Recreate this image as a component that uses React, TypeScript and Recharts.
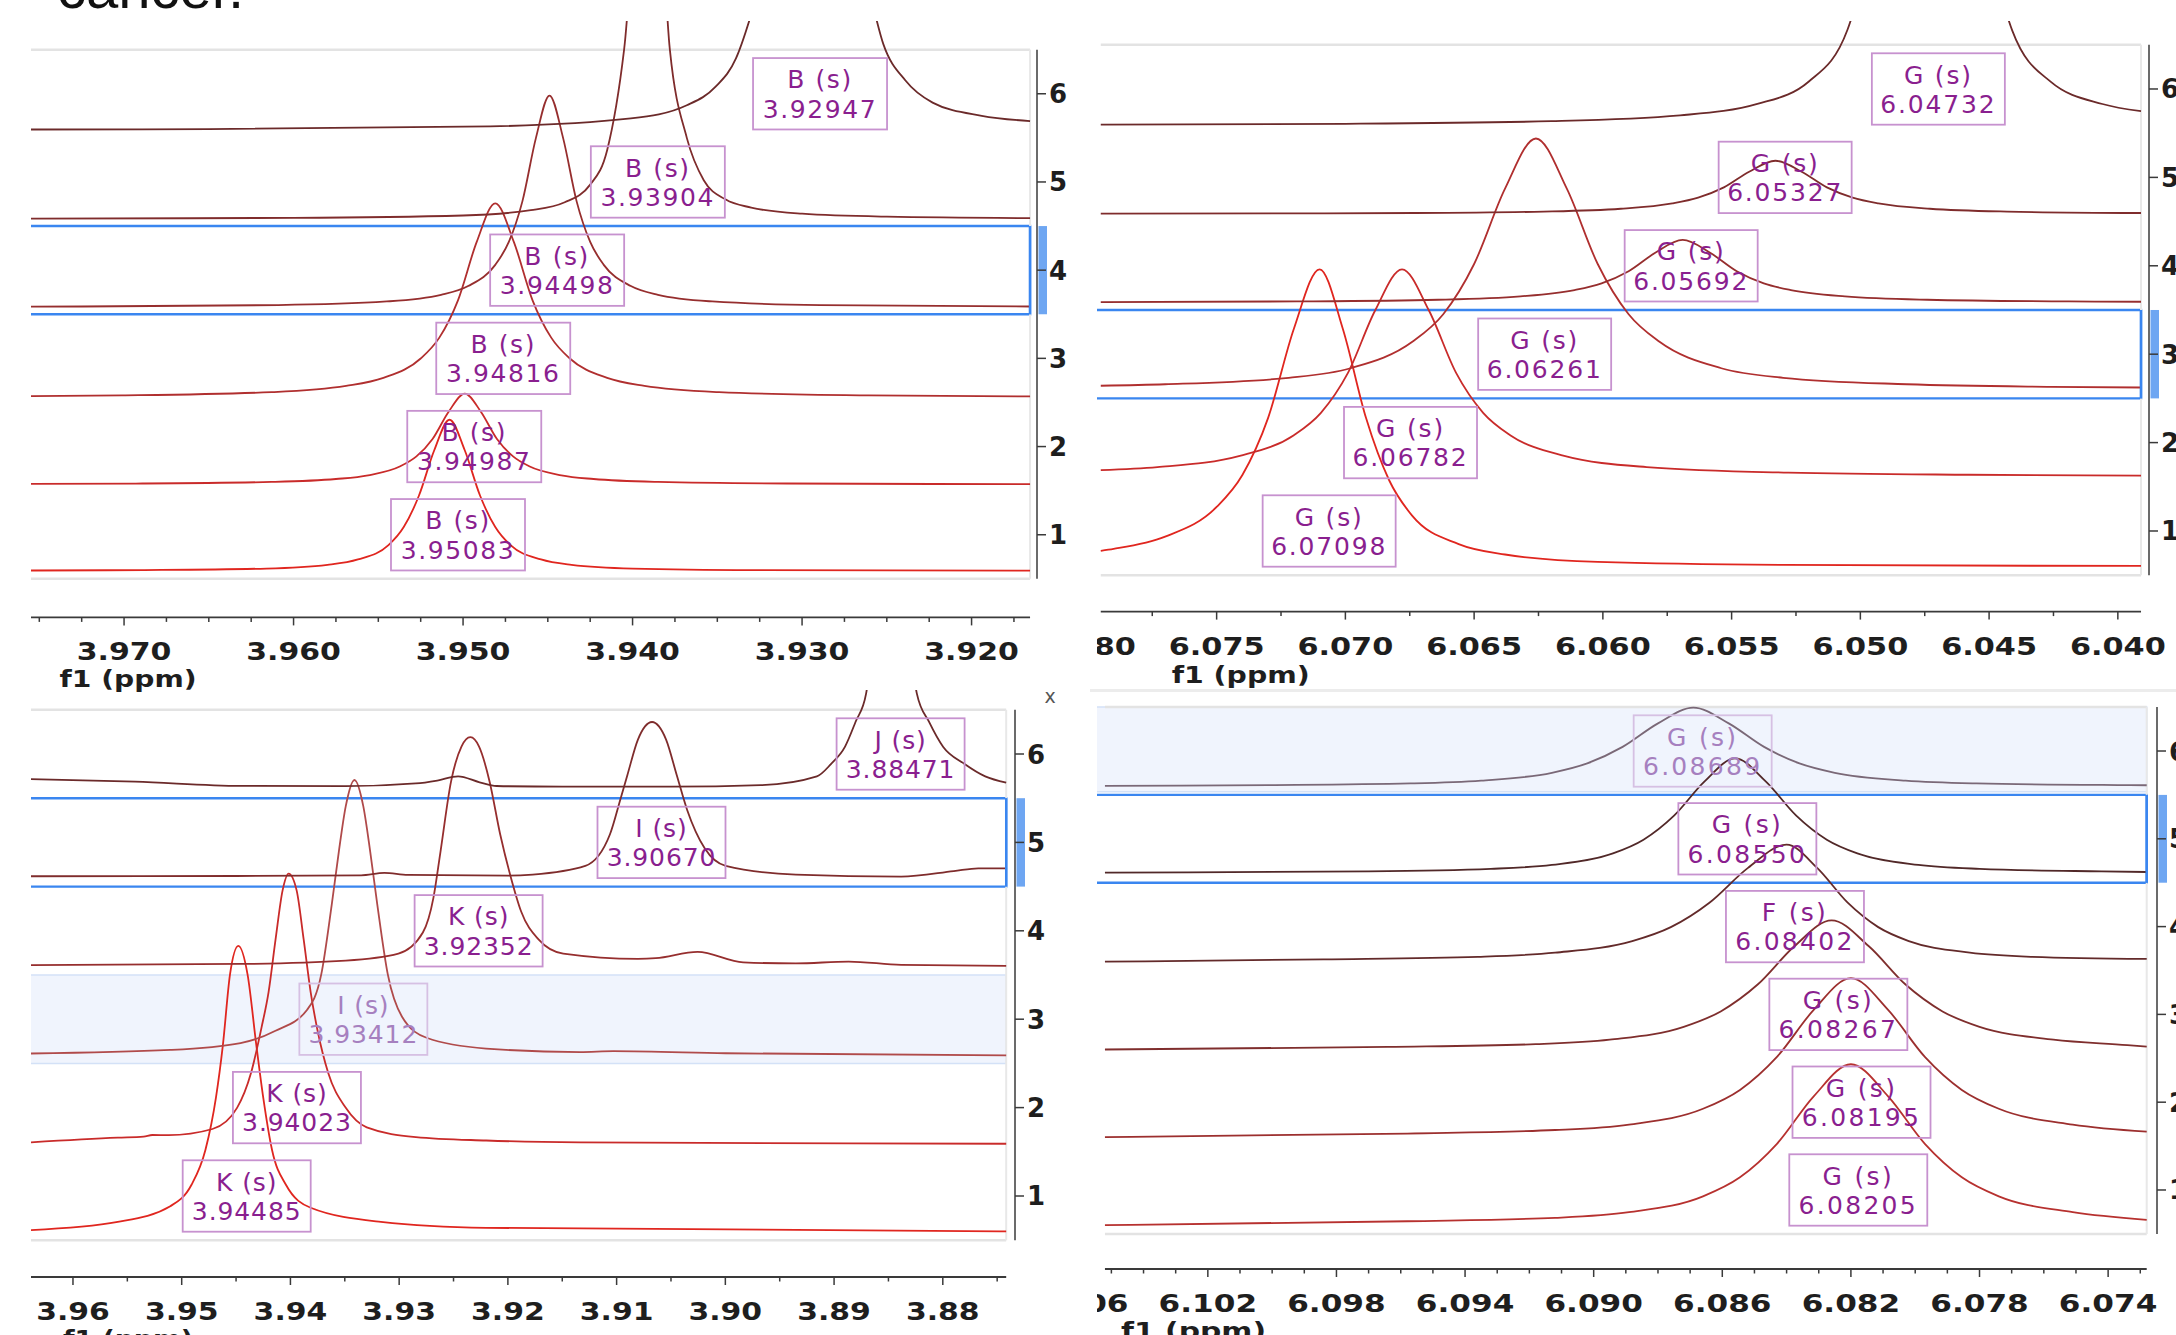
import React from "react";
import { ComposedChart, Line, XAxis, YAxis, ReferenceLine, ReferenceArea, ReferenceDot } from "recharts";

type Pt = [number, number];
type Lbl = [string, number, number];

// ---- top-left: B singlet, 3.92–3.97 ppm (ppm, stacked intensity) ----
const P1_T1: Pt[] = [[3.9755,0.595],[3.9688,0.6],[3.9616,0.617],[3.958,0.659],[3.9562,0.72],[3.9544,0.882],[3.9535,1.087],[3.9526,1.445],[3.9517,1.958],[3.9508,2.304],[3.9499,1.958],[3.949,1.445],[3.9481,1.087],[3.9472,0.882],[3.9454,0.72],[3.9436,0.659],[3.94,0.617],[3.9328,0.6],[3.91655,0.594]];
const P1_T2: Pt[] = [[3.9755,1.577],[3.9689,1.581],[3.9613,1.599],[3.9575,1.632],[3.9556,1.674],[3.9537,1.777],[3.95275,1.888],[3.9518,2.086],[3.95085,2.395],[3.9499,2.601],[3.94895,2.395],[3.948,2.086],[3.94705,1.888],[3.9461,1.777],[3.9442,1.674],[3.9423,1.632],[3.9385,1.599],[3.9309,1.581],[3.91655,1.574]];
const P1_T3: Pt[] = [[3.9755,2.572],[3.9701,2.58],[3.9613,2.617],[3.9569,2.687],[3.9547,2.778],[3.9525,2.998],[3.9514,3.235],[3.9503,3.658],[3.9492,4.318],[3.9481,4.758],[3.947,4.318],[3.9459,3.658],[3.9448,3.235],[3.9437,2.998],[3.9415,2.778],[3.9393,2.687],[3.9349,2.617],[3.9261,2.58],[3.91655,2.569]];
const P1_T4: Pt[] = [[3.9755,3.586],[3.9609,3.604],[3.9545,3.645],[3.9513,3.72],[3.9497,3.82],[3.9481,4.06],[3.9473,4.32],[3.9465,4.78],[3.9457,5.5],[3.9449,5.98],[3.9441,5.5],[3.9433,4.78],[3.9425,4.32],[3.9417,4.06],[3.9401,3.82],[3.9385,3.72],[3.9353,3.645],[3.9289,3.604],[3.91655,3.588]];
const P1_T5: Pt[] = [[3.9755,4.585],[3.96,4.593],[3.95,4.62],[3.946,4.68],[3.944,4.77],[3.9425,4.97],[3.9415,5.36],[3.9405,6.5],[3.939,10],[3.9378,6.5],[3.9368,5.5],[3.9358,5.02],[3.9345,4.8],[3.933,4.71],[3.93,4.64],[3.925,4.606],[3.91655,4.59]];
const P1_T6: Pt[] = [[3.9755,5.595],[3.965,5.6],[3.9484,5.63],[3.9401,5.72],[3.9368,5.87],[3.9351,6.08],[3.9339,6.4],[3.933,6.9],[3.931,8.5],[3.9295,14],[3.928,8.5],[3.9262,7.3],[3.9252,6.56],[3.9239,6.15],[3.9223,5.9],[3.9194,5.75],[3.91655,5.69]];
const P1_LABELS: Lbl[] = [["B (s)",3.92947,6],["B (s)",3.93904,5],["B (s)",3.94498,4],["B (s)",3.94816,3],["B (s)",3.94987,2],["B (s)",3.95083,1]];
const P1_MAJOR = ["3.970","3.960","3.950","3.940","3.930","3.920"];

// ---- top-right: G singlet, 6.04–6.08 ppm ----
const P2_T1: Pt[] = [[6.0795,0.776],[6.079,0.798],[6.077,0.936],[6.075,1.272],[6.074,1.634],[6.073,2.28],[6.072,3.288],[6.071,3.96],[6.0701,3.288],[6.0692,2.28],[6.0683,1.574],[6.0674,1.171],[6.0656,0.852],[6.0638,0.734],[6.0602,0.65],[6.053,0.617],[6.0391,0.605]];
const P2_T2: Pt[] = [[6.0795,1.688],[6.0773,1.723],[6.0741,1.85],[6.072,2.084],[6.07095,2.337],[6.0699,2.788],[6.06885,3.491],[6.0678,3.96],[6.06675,3.491],[6.0657,2.788],[6.06465,2.337],[6.0636,2.084],[6.0615,1.85],[6.0583,1.723],[6.0528,1.66],[6.0458,1.636],[6.0391,1.627]];
const P2_T3: Pt[] = [[6.0795,2.643],[6.077,2.66],[6.0722,2.733],[6.0698,2.841],[6.0674,3.14],[6.0662,3.452],[6.065,4.02],[6.0638,4.872],[6.0626,5.44],[6.0614,4.872],[6.0602,4.02],[6.059,3.452],[6.0578,3.14],[6.0554,2.841],[6.053,2.733],[6.0482,2.66],[6.0426,2.631],[6.0391,2.623]];
const P2_T4: Pt[] = [[6.0795,3.589],[6.0719,3.597],[6.0664,3.616],[6.0632,3.654],[6.0611,3.725],[6.06005,3.801],[6.059,3.938],[6.05795,4.15],[6.0569,4.292],[6.05585,4.15],[6.0548,3.938],[6.05375,3.801],[6.0527,3.725],[6.0506,3.654],[6.0474,3.616],[6.0419,3.597],[6.0391,3.593]];
const P2_T5: Pt[] = [[6.0795,4.589],[6.0673,4.597],[6.0623,4.613],[6.0593,4.645],[6.0573,4.706],[6.0563,4.771],[6.0553,4.887],[6.0543,5.067],[6.0533,5.188],[6.0523,5.067],[6.0513,4.887],[6.0503,4.771],[6.0493,4.706],[6.0473,4.645],[6.0443,4.613],[6.0391,4.597]];
const P2_T6: Pt[] = [[6.0795,5.596],[6.07,5.606],[6.062,5.636],[6.057,5.702],[6.054,5.831],[6.052,6.085],[6.0505,6.67],[6.0495,7.9],[6.0473,14],[6.0451,7.9],[6.0441,6.66],[6.0426,6.08],[6.0406,5.83],[6.0391,5.749]];
const P2_LABELS: Lbl[] = [["G (s)",6.04732,6],["G (s)",6.05327,5],["G (s)",6.05692,4],["G (s)",6.06261,3],["G (s)",6.06782,2],["G (s)",6.07098,1]];
const P2_MAJOR = ["6.080","6.075","6.070","6.065","6.060","6.055","6.050","6.045","6.040"];

// ---- bottom-left: K / I / J, 3.87–3.96 ppm ----
const P3_T1: Pt[] = [[3.96386,0.615],[3.95588,0.707],[3.95105,0.885],[3.94911,1.124],[3.94782,1.52],[3.94685,2.113],[3.94621,2.71],[3.94556,3.504],[3.94479,3.83],[3.94394,3.504],[3.94314,2.71],[3.9425,2.113],[3.94169,1.52],[3.9404,1.124],[3.93814,0.867],[3.93168,0.707],[3.922,0.64],[3.87417,0.6]];
const P3_T2: Pt[] = [[3.96386,1.607],[3.95588,1.66],[3.9535,1.672],[3.9527,1.69],[3.9512,1.688],[3.94717,1.758],[3.94491,1.997],[3.94362,2.394],[3.94265,2.91],[3.94201,3.307],[3.94137,3.9],[3.94072,4.457],[3.94017,4.647],[3.93943,4.457],[3.93878,3.9],[3.93814,3.307],[3.9375,2.869],[3.93653,2.394],[3.93491,1.997],[3.93298,1.776],[3.92846,1.667],[3.922,1.628],[3.91335,1.607],[3.87417,1.591]];
const P3_T3: Pt[] = [[3.96386,2.612],[3.95105,2.652],[3.94459,2.73],[3.94137,2.869],[3.93846,3.107],[3.93717,3.504],[3.9362,4.297],[3.93555,4.894],[3.93491,5.41],[3.93411,5.706],[3.9333,5.41],[3.93266,4.894],[3.93201,4.297],[3.93104,3.504],[3.92975,3.03],[3.92748,2.79],[3.922,2.668],[3.91335,2.628],[3.91029,2.639],[3.9,2.615],[3.87417,2.59]];
const P3_T4: Pt[] = [[3.96386,3.612],[3.94459,3.625],[3.93491,3.663],[3.93007,3.742],[3.92782,3.98],[3.92684,4.378],[3.9262,4.894],[3.92523,5.687],[3.92427,6.084],[3.92345,6.19],[3.92265,6.084],[3.92168,5.687],[3.92071,5.092],[3.91975,4.615],[3.91878,4.218],[3.91716,3.9],[3.91491,3.742],[3.90804,3.683],[3.9064,3.69],[3.90255,3.762],[3.89836,3.643],[3.89351,3.631],[3.88867,3.652],[3.88383,3.615],[3.87417,3.604]];
const P3_T5: Pt[] = [[3.96386,4.617],[3.945,4.62],[3.9335,4.628],[3.93136,4.655],[3.9292,4.632],[3.92,4.625],[3.91772,4.636],[3.91288,4.734],[3.91061,5.092],[3.90965,5.489],[3.909,5.766],[3.90804,6.163],[3.90674,6.362],[3.90545,6.163],[3.90448,5.766],[3.90352,5.37],[3.9019,4.933],[3.89997,4.734],[3.89351,4.636],[3.88383,4.613],[3.87899,4.675],[3.87674,4.707],[3.87417,4.707]];
const P3_T6: Pt[] = [[3.96386,5.715],[3.95429,5.687],[3.94459,5.639],[3.93491,5.636],[3.92846,5.667],[3.9265,5.7],[3.92458,5.747],[3.9226,5.68],[3.92104,5.638],[3.915,5.63],[3.905,5.63],[3.89674,5.647],[3.89158,5.747],[3.89029,5.886],[3.88899,6.084],[3.88803,6.362],[3.88706,6.68],[3.886,8.5],[3.8847,15],[3.8835,8.5],[3.88238,6.68],[3.88125,6.36],[3.87996,6.08],[3.87803,5.89],[3.8761,5.747],[3.87417,5.676]];
const P3_LABELS: Lbl[] = [["J (s)",3.88471,6],["I (s)",3.9067,5],["K (s)",3.92352,4],["I (s)",3.93412,3],["K (s)",3.94023,2],["K (s)",3.94485,1]];
const P3_MAJOR = ["3.96","3.95","3.94","3.93","3.92","3.91","3.90","3.89","3.88"];

// ---- bottom-right: G / F, 6.073–6.105 ppm ----
const P4_T1: Pt[] = [[6.1052,0.6],[6.0958,0.644],[6.0912,0.683],[6.0889,0.747],[6.0866,0.928],[6.08545,1.145],[6.0843,1.526],[6.08315,2.07],[6.082,2.432],[6.08085,2.07],[6.0797,1.526],[6.07855,1.145],[6.0774,0.928],[6.0751,0.747],[6.0728,0.66]];
const P4_T2: Pt[] = [[6.1052,1.602],[6.0958,1.643],[6.0912,1.683],[6.0889,1.745],[6.0866,1.925],[6.08545,2.14],[6.0843,2.516],[6.08315,3.054],[6.082,3.412],[6.08085,3.054],[6.0797,2.516],[6.07855,2.14],[6.0774,1.925],[6.0751,1.745],[6.0728,1.665]];
const P4_T3: Pt[] = [[6.1052,2.6],[6.0964,2.629],[6.0918,2.661],[6.0895,2.712],[6.0872,2.858],[6.08605,3.034],[6.0849,3.34],[6.08375,3.779],[6.0826,4.071],[6.08145,3.779],[6.0803,3.34],[6.07915,3.034],[6.078,2.858],[6.0757,2.712],[6.0734,2.65],[6.0728,2.632]];
const P4_T4: Pt[] = [[6.1052,3.6],[6.0984,3.627],[6.0936,3.656],[6.0912,3.703],[6.0888,3.835],[6.0876,3.994],[6.0864,4.272],[6.0852,4.669],[6.084,4.934],[6.08305,4.669],[6.0821,4.272],[6.08115,3.994],[6.0802,3.835],[6.0783,3.703],[6.0764,3.656],[6.0728,3.632]];
const P4_T5: Pt[] = [[6.1052,4.614],[6.097,4.629],[6.0932,4.658],[6.0913,4.703],[6.0894,4.834],[6.08845,4.99],[6.0875,5.264],[6.08655,5.654],[6.0856,5.915],[6.08465,5.654],[6.0837,5.264],[6.08275,4.99],[6.0818,4.834],[6.0799,4.703],[6.078,4.658],[6.0742,4.629],[6.0728,4.622]];
const P4_T6: Pt[] = [[6.1052,5.604],[6.1001,5.612],[6.0957,5.631],[6.0935,5.663],[6.0913,5.752],[6.0902,5.859],[6.0891,6.047],[6.088,6.315],[6.0869,6.494],[6.0858,6.315],[6.0847,6.047],[6.0836,5.859],[6.0825,5.752],[6.0803,5.663],[6.0781,5.631],[6.0737,5.612],[6.0728,5.61]];
const P4_LABELS: Lbl[] = [["G (s)",6.08689,6],["G (s)",6.0855,5],["F (s)",6.08402,4],["G (s)",6.08267,3],["G (s)",6.08195,2],["G (s)",6.08205,1]];
const P4_MAJOR = ["6.106","6.102","6.098","6.094","6.090","6.086","6.082","6.078","6.074"];

const LEVELS = [1, 2, 3, 4, 5, 6];
const REDS = ["#e0261f", "#c92b2a", "#b02f2f", "#962e2e", "#7f2c2c", "#6b2a2a"];
const REDS_P3 = ["#e0261f", "#c92b2a", "#b04a4a", "#962e2e", "#7f2c2c", "#6b2a2a"];
const REDS_P4 = ["#b7312f", "#9c2f2e", "#7f2e2d", "#632a2a", "#512828", "#7a6877"];

const FONT = "'DejaVu Sans', Verdana, sans-serif";
const YW = 60;
const XH = 40;

// tick marks every `step` ppm, going down from `from`
function stepTicks(from: number, to: number, step: number) {
  const n = Math.round((from - to) / step);
  return Array.from({ length: n + 1 }, (_, i) => +(from - i * step).toFixed(5));
}

interface Cfg {
  wrap: { left: number; top: number; width: number; height: number; clip: boolean };
  chart: { left: number; top: number; width: number; height: number };
  plot: { x0: number; x1: number; y0: number; y1: number };
  xDomain: [number, number];
  yDomain: [number, number];
  span: [number, number];
  traces: Pt[][];
  colors: string[];
  labels: Lbl[];
  majors: string[];
  ticks: number[];
  tickW: number;
  box: { w: number; ls: number };
  selected: number;
  faded?: number;
  band?: [number, number];
}

const PANELS: Cfg[] = [
  {
    wrap: { left: 1097, top: 0, width: 1079, height: 700, clip: true },
    chart: { left: 1030, top: 0, width: 1180, height: 700 },
    plot: { x0: 1040, x1: 2149, y0: 21, y1: 611.6 },
    xDomain: [6.03879, 6.08186], yDomain: [0.0882, 6.769], span: [6.0391, 6.0795],
    traces: [P2_T1, P2_T2, P2_T3, P2_T4, P2_T5, P2_T6], colors: REDS,
    labels: P2_LABELS, majors: P2_MAJOR, ticks: stepTicks(6.08, 6.04, 0.0025), tickW: 95.8,
    box: { w: 133, ls: 1.8 }, selected: 3,
  },
  {
    wrap: { left: 1097, top: 680, width: 1079, height: 655, clip: true },
    chart: { left: 1030, top: 680, width: 1190, height: 680 },
    plot: { x0: 1040, x1: 2157, y0: 700, y1: 1269 },
    xDomain: [6.07248, 6.10722], yDomain: [0.1, 6.581], span: [6.0728, 6.1052],
    traces: [P4_T1, P4_T2, P4_T3, P4_T4, P4_T5, P4_T6], colors: REDS_P4,
    labels: P4_LABELS, majors: P4_MAJOR, ticks: stepTicks(6.107, 6.073, 0.001), tickW: 98.5,
    box: { w: 138, ls: 2.3 }, selected: 5, faded: 6, band: [5.535, 6.5],
  },
  {
    wrap: { left: 0, top: 0, width: 1100, height: 700, clip: false },
    chart: { left: 0, top: 0, width: 1100, height: 700 },
    plot: { x0: 31, x1: 1037, y0: 21, y1: 617.4 },
    xDomain: [3.91614, 3.97549], yDomain: [0.063, 6.825], span: [3.91655, 3.9755],
    traces: [P1_T1, P1_T2, P1_T3, P1_T4, P1_T5, P1_T6], colors: REDS,
    labels: P1_LABELS, majors: P1_MAJOR, ticks: stepTicks(3.975, 3.9175, 0.0025), tickW: 94.7,
    box: { w: 134, ls: 1.6 }, selected: 4,
  },
  {
    wrap: { left: 0, top: 680, width: 1100, height: 655, clip: false },
    chart: { left: 0, top: 680, width: 1100, height: 680 },
    plot: { x0: 31, x1: 1015, y0: 690, y1: 1277 },
    xDomain: [3.87336, 3.96386], yDomain: [0.0837, 6.724], span: [3.87417, 3.96386],
    traces: [P3_T1, P3_T2, P3_T3, P3_T4, P3_T5, P3_T6], colors: REDS_P3,
    labels: P3_LABELS, majors: P3_MAJOR, ticks: stepTicks(3.96, 3.875, 0.005), tickW: 73.6,
    box: { w: 128, ls: 0.9 }, selected: 5, faded: 3, band: [2.5, 3.5],
  },
];

function XTick(props: any) {
  const { x, payload, cfg } = props;
  const axisY = cfg.plot.y1 - cfg.chart.top;
  const v = payload.value as number;
  const lab = cfg.majors.find((m: string) => Math.abs(parseFloat(m) - v) < 1e-6);
  return (
    <g>
      <line x1={x} x2={x} y1={axisY} y2={axisY + (lab ? 8 : 4.5)} stroke="#3a3a3a" strokeWidth={1.5} />
      {lab && (
        <text x={x} y={axisY + 43} textAnchor="middle" fontFamily={FONT} fontWeight="bold" fontSize={25}
          fill="#1e1e1e" textLength={cfg.tickW} lengthAdjust="spacingAndGlyphs">{lab}</text>
      )}
    </g>
  );
}

function YTick(props: any) {
  const { y, payload, cfg } = props;
  const ax = cfg.plot.x1 - cfg.chart.left;
  return (
    <g>
      <line x1={ax} x2={ax + 9} y1={y} y2={y} stroke="#3a3a3a" strokeWidth={1.5} />
      <text x={ax + 12} y={y + 9.5} fontFamily={FONT} fontWeight="bold" fontSize={26} fill="#1e1e1e">{payload.value}</text>
    </g>
  );
}

function Panel({ cfg }: { cfg: Cfg }) {
  const { wrap, chart, plot, xDomain, yDomain, span, selected } = cfg;
  const margin = {
    left: plot.x0 - chart.left,
    top: plot.y0 - chart.top,
    right: chart.left + chart.width - plot.x1 - YW,
    bottom: chart.top + chart.height - plot.y1 - XH,
  };
  const unit = (plot.y1 - plot.y0) / (yDomain[1] - yDomain[0]);
  const farLeft = xDomain[1] + 0.002;
  const sx = Math.min(span[1], xDomain[1]);

  return (
    <div style={{ position: "absolute", left: wrap.left, top: wrap.top, width: wrap.width, height: wrap.height, overflow: wrap.clip ? "hidden" : "visible" }}>
      <div style={{ position: "absolute", left: chart.left - wrap.left, top: chart.top - wrap.top }}>
        <ComposedChart width={chart.width} height={chart.height} margin={margin}>
          <XAxis type="number" dataKey="x" domain={xDomain} reversed allowDataOverflow ticks={cfg.ticks} interval={0}
            axisLine={false} tickLine={false} tickSize={0} tickMargin={0} height={XH}
            tick={(p: any) => <XTick {...p} cfg={cfg} />} />
          <YAxis type="number" orientation="right" domain={yDomain} allowDataOverflow ticks={LEVELS} interval={0}
            axisLine={false} tickLine={false} width={YW} tick={(p: any) => <YTick {...p} cfg={cfg} />} />

          {cfg.band && (
            <ReferenceArea x1={farLeft} x2={span[0]} y1={cfg.band[0]} y2={cfg.band[1]} ifOverflow="hidden"
              fill="#2f6fe0" fillOpacity={0.075} stroke="#d3e1f7" strokeWidth={1.5} />
          )}
          {/* light grey frame round the stack, leaving the selected row's edge to the blue box */}
          <ReferenceLine segment={[{ x: sx, y: 6.5 }, { x: span[0], y: 6.5 }]} stroke="#e3e3e3" strokeWidth={2.5} />
          <ReferenceLine segment={[{ x: sx, y: 0.5 }, { x: span[0], y: 0.5 }]} stroke="#e3e3e3" strokeWidth={2.5} />
          <ReferenceLine segment={[{ x: span[0], y: 0.5 }, { x: span[0], y: selected - 0.5 }]} stroke="#e8e8e8" strokeWidth={2} />
          <ReferenceLine segment={[{ x: span[0], y: selected + 0.5 }, { x: span[0], y: 6.5 }]} stroke="#e8e8e8" strokeWidth={2} />

          {cfg.traces.map((t, i) => (
            <Line key={i} data={t.map(([x, v]) => ({ x, v }))} dataKey="v" type="monotone" dot={false} activeDot={false}
              stroke={cfg.colors[i]} strokeWidth={1.8} isAnimationActive={false} />
          ))}

          <ReferenceArea x1={farLeft} x2={span[0]} y1={selected - 0.5} y2={selected + 0.5} ifOverflow="hidden"
            fill="none" fillOpacity={0} stroke="#3a86f0" strokeWidth={2.4} />
          <ReferenceLine segment={[{ x: span[0], y: selected - 0.5 }, { x: span[0], y: selected + 0.5 }]} stroke="#3a86f0" strokeWidth={2.4} />

          {cfg.labels.map(([name, shift, level]) => {
            const faded = level === cfg.faded;
            return (
              <ReferenceDot key={shift} x={shift} y={level} r={0} ifOverflow="visible"
                shape={(p: any) => {
                  const cx = p.cx + 9;
                  const top = p.cy - 35.7;
                  const w = cfg.box.w;
                  const col = faded ? "#a680bf" : "#8a1f8f";
                  return (
                    <g>
                      <rect x={cx - w / 2} y={top} width={w} height={71.4} fill="none" stroke={faded ? "#d6c0e3" : "#c792cf"} strokeWidth={1.8} />
                      <text x={cx} y={top + 30.3} textAnchor="middle" fontFamily={FONT} fontSize={25} letterSpacing={cfg.box.ls} fill={col}>{name}</text>
                      <text x={cx} y={top + 59.6} textAnchor="middle" fontFamily={FONT} fontSize={25} letterSpacing={cfg.box.ls} fill={col}>{shift.toFixed(5)}</text>
                    </g>
                  );
                }} />
            );
          })}

          {/* axis lines: y on the right of the frame, x below it */}
          <ReferenceLine segment={[{ x: xDomain[0], y: 0.5 }, { x: xDomain[0], y: 6.5 }]} stroke="#3a3a3a" strokeWidth={1.5} />
          <ReferenceLine segment={[{ x: sx, y: yDomain[0] }, { x: span[0], y: yDomain[0] }]} stroke="#3a3a3a" strokeWidth={1.8} />
          <ReferenceDot x={xDomain[0]} y={selected} r={0} ifOverflow="visible"
            shape={(p: any) => <rect x={p.cx + 1.5} y={p.cy - unit / 2} width={8.5} height={unit} fill="#6ea6f2" />} />
        </ComposedChart>
      </div>
    </div>
  );
}

export default function App() {
  const title = { fontFamily: FONT, fontWeight: "bold" as const, fontSize: 23, fill: "#1e1e1e", lengthAdjust: "spacingAndGlyphs" };
  return (
    <div style={{ position: "absolute", left: 0, top: 0, width: 2176, height: 1335, overflow: "hidden", background: "#fff" }}>
      <Panel cfg={PANELS[0]} />
      <Panel cfg={PANELS[1]} />
      <div style={{ position: "absolute", left: 1090, top: 689, width: 1086, height: 3, background: "#ececec" }} />
      <Panel cfg={PANELS[2]} />
      <Panel cfg={PANELS[3]} />
      <svg width={2176} height={1335} style={{ position: "absolute", left: 0, top: 0, pointerEvents: "none" }}>
        <text x={57} y={8} fontFamily="'Liberation Sans', Arial, sans-serif" fontSize={58} fill="#111">cancer.</text>
        <text x={59.6} y={687} {...title} textLength={137}>f1 (ppm)</text>
        <text x={1171.7} y={683} {...title} textLength={138}>f1 (ppm)</text>
        <text x={63} y={1347} {...title} textLength={130}>f1 (ppm)</text>
        <text x={1121} y={1339} {...title} textLength={145}>f1 (ppm)</text>
        <text x={1050} y={703} textAnchor="middle" fontFamily={FONT} fontSize={19} fill="#555">x</text>
      </svg>
    </div>
  );
}
